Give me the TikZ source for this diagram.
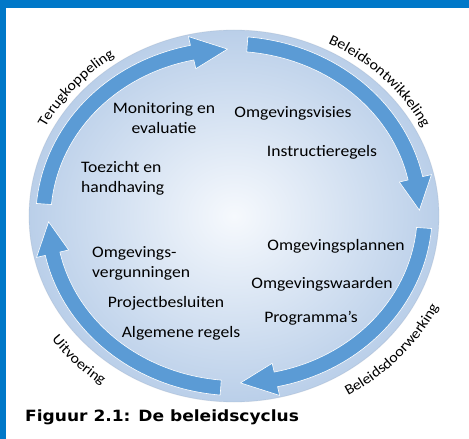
\documentclass[tikz,border=0pt]{standalone}
\usepackage{fontspec}
\setmainfont{Carlito}[FakeStretch=1.1]
\newfontfamily\capfont{DejaVu Sans}[FakeStretch=1.1]
\usetikzlibrary{decorations.text}

\definecolor{kader}{RGB}{0,120,200}
\definecolor{pijl}{RGB}{91,155,213}
\definecolor{rand}{RGB}{186,207,233}
\definecolor{midden}{RGB}{246,249,253}

\newcommand\fasefont{\fontsize{14.5}{17}\selectfont}

\tikzset{
  tekst/.style={font=\fontsize{16}{20}\selectfont, inner sep=0pt, align=center},
  pijlvorm/.style={fill=pijl, draw=white, line width=0.6pt},
  fase/.style={decorate, decoration={text along path, text align=center, text={|\fasefont|#1}}}
}

\begin{document}
\begin{tikzpicture}[x=1pt, y=1pt]
  \useasboundingbox (-234,-223) rectangle (235,216);
  \fill[kader] (-234,208) rectangle (235,216);
  \fill[kader] (-234,-223) rectangle (-228,216);

  \shade[inner color=midden, outer color=rand] (0,0) ellipse[x radius=205, y radius=186];
  \draw[rand!80!black, opacity=0.25, line width=0.8pt] (0,0) ellipse[x radius=205, y radius=186];

  \foreach \g in {180,90,0,-90}{
    \pgfmathsetmacro\staart{\g-4}
    \pgfmathsetmacro\basis{\g-77}
    \pgfmathsetmacro\punt{\g-88}
    \fill[pijlvorm]
      plot[domain=\staart:\basis, samples=40] ({(198-5*(\staart-\x)/84)*cos(\x)}, {(179.5-5*(\staart-\x)/84)*sin(\x)})
      -- ({202.65*cos(\basis)}, {184.15*sin(\basis)})
      -- ({185.5*cos(\punt)}, {167*sin(\punt)})
      -- ({169.65*cos(\basis)}, {151.15*sin(\basis)})
      -- plot[domain=\basis:\staart, samples=40] ({(183-5*(\staart-\x)/84)*cos(\x)}, {(164.5-5*(\staart-\x)/84)*sin(\x)})
      -- cycle;
  }

  \path[fase=Terugkoppeling] ({212*cos(179.5)}, {193*sin(179.5)}) arc[start angle=179.5, end angle=99.5, x radius=212, y radius=193];
  \path[fase=Beleidsontwikkeling] ({212*cos(84.5)}, {193*sin(84.5)}) arc[start angle=84.5, end angle=4.5, x radius=212, y radius=193];
  \path[fase=Beleidsdoorwerking] ({227*cos(-82)}, {208*sin(-82)}) arc[start angle=-82, end angle=-2, x radius=227, y radius=208];
  \path[fase=Uitvoering] ({227*cos(184.5)}, {208*sin(184.5)}) arc[start angle=184.5, end angle=264.5, x radius=227, y radius=208];

  \node[tekst] (monitoring) at (-70,98) {Monitoring en\\evaluatie};
  \node[tekst] (visies) at (59,103) {Omgevingsvisies};
  \node[tekst] (instructie) at (88,64) {Instructieregels};
  \node[tekst, align=left, anchor=west] (toezicht) at (-153,38) {Toezicht en\\handhaving};
  \node[tekst] (plannen) at (102,-30) {Omgevingsplannen};
  \node[tekst] (waarden) at (88,-68) {Omgevingswaarden};
  \node[tekst] (programmas) at (77,-102) {Programma’s};
  \node[tekst, align=left, anchor=west] (vergunningen) at (-142,-47) {Omgevings-\\vergunningen};
  \node[tekst] (besluiten) at (-68,-87) {Projectbesluiten};
  \node[tekst] (regels) at (-53,-117) {Algemene regels};

  \node[anchor=base west, inner sep=0pt, font=\capfont\bfseries\fontsize{15.5}{18}\selectfont] (bijschrift) at (-209,-205) {Figuur 2.1: De beleidscyclus};
\end{tikzpicture}
\end{document}
